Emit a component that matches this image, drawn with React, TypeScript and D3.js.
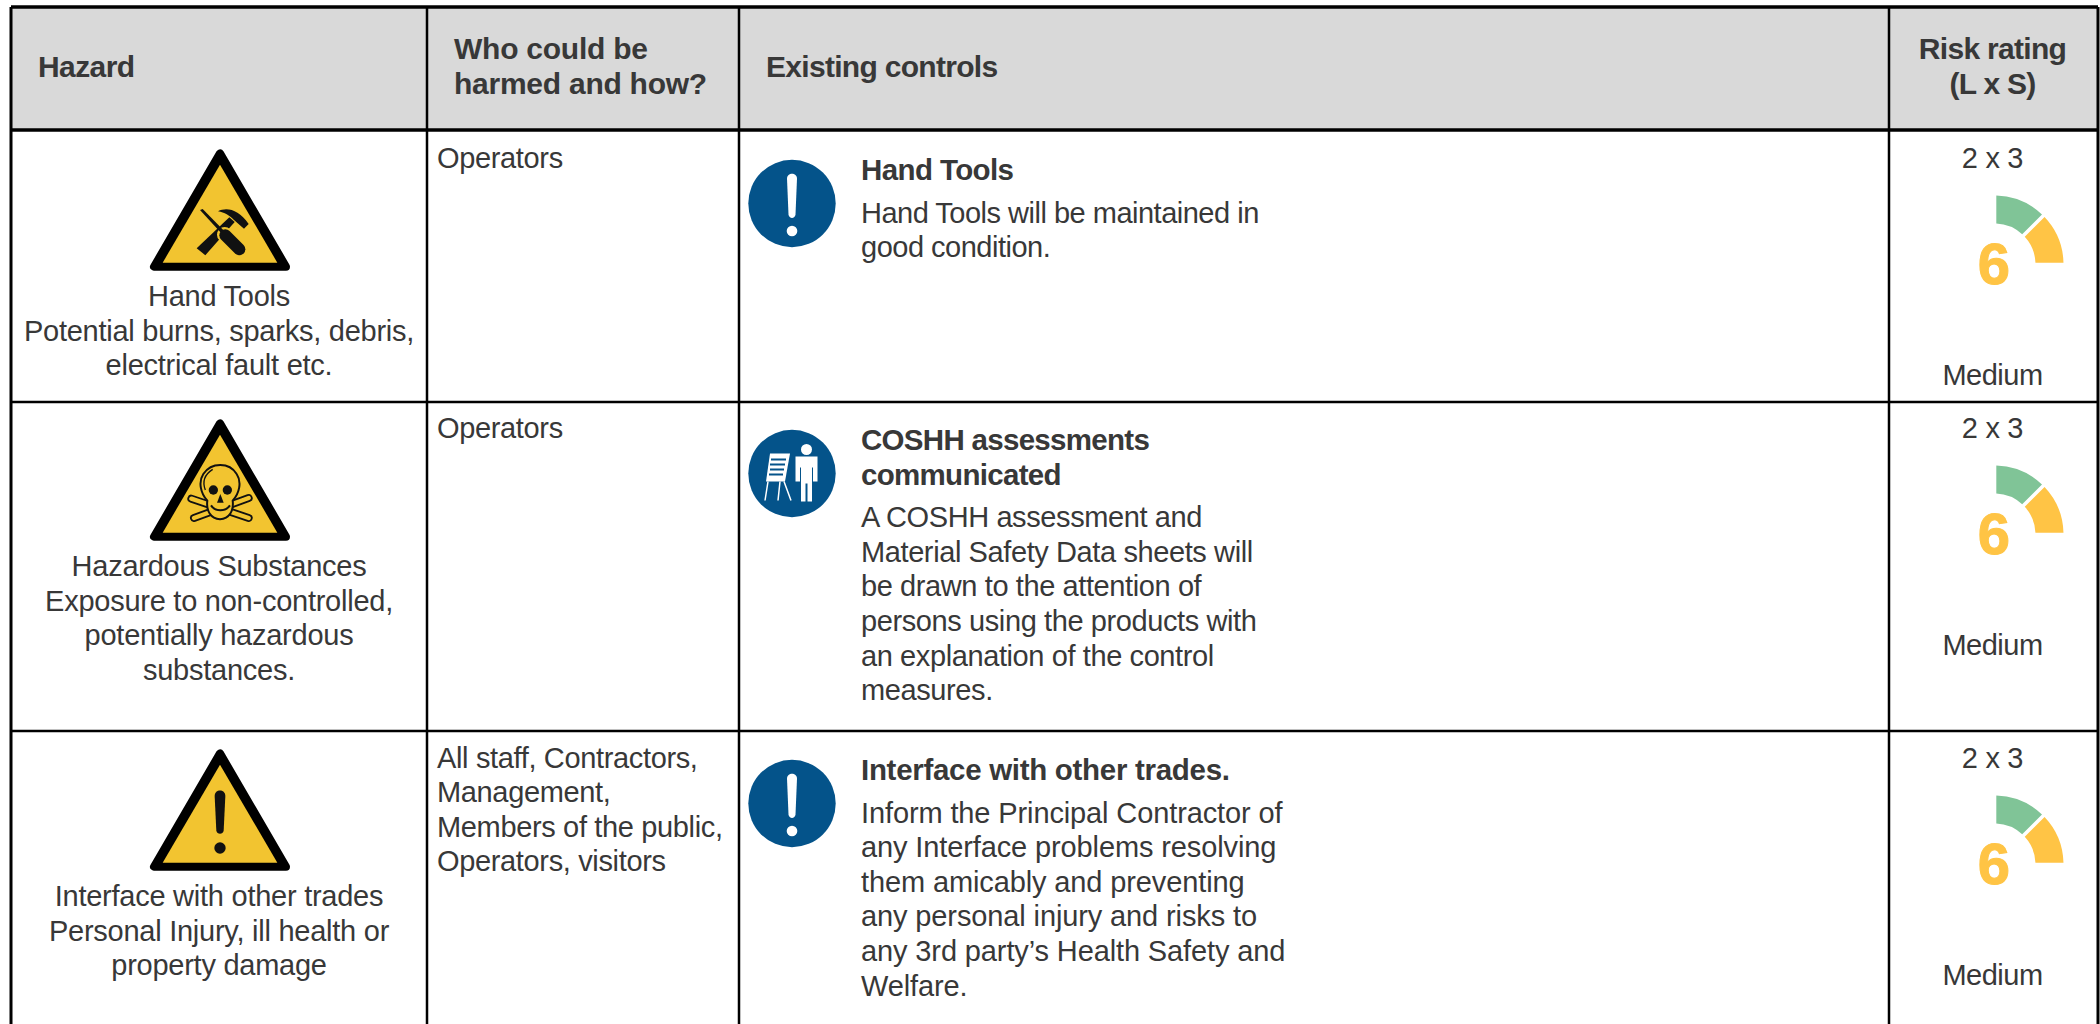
import React from "react";
import * as d3 from "d3";

// table content
const headers = [["Hazard"], ["Who could be", "harmed and how?"], ["Existing controls"], ["Risk rating", "(L x S)"]];
const hazardText = [
  ["Hand Tools", "Potential burns, sparks, debris,", "electrical fault etc."],
  ["Hazardous Substances", "Exposure to non-controlled,", "potentially hazardous", "substances."],
  ["Interface with other trades", "Personal Injury, ill health or", "property damage"],
];
const whoText = [
  ["Operators"],
  ["Operators"],
  ["All staff, Contractors,", "Management,", "Members of the public,", "Operators, visitors"],
];
const controlTitles = [
  ["Hand Tools"],
  ["COSHH assessments", "communicated"],
  ["Interface with other trades."],
];
const controlBodies = [
  ["Hand Tools will be maintained in", "good condition."],
  [
    "A COSHH assessment and",
    "Material Safety Data sheets will",
    "be drawn to the attention of",
    "persons using the products with",
    "an explanation of the control",
    "measures.",
  ],
  [
    "Inform the Principal Contractor of",
    "any Interface problems resolving",
    "them amicably and preventing",
    "any personal injury and risks to",
    "any 3rd party\u2019s Health Safety and",
    "Welfare.",
  ],
];
const likelihood = [2, 2, 2];
const severity = [3, 3, 3];
const ratingLabels = ["Medium", "Medium", "Medium"];
const hazardIcons = ["tools", "skull", "warning"];
const controlIcons = ["notice", "briefing", "notice"];
const gaugeBands = [1, 1];
const gaugeColors = ["#80C497", "#FFC445"];

// layout
const colEdges = [11, 427, 739, 1889, 2098];
const rowEdges = [7, 130, 402, 731];
const rowShift = [0, 270, 600];
const headerSpacing = [-0.6, -0.25, -0.7, -0.7];
const titleSpacing = [-0.6, -0.7, -0.3];
const bodySpacing = [-0.5, -0.4, -0.12];
const textColor = "#383838";
const yellow = "#F2C430";
const blue = "#04538A";
const lineH = 34.6;

const pie = d3
  .pie<number>()
  .value((d) => d)
  .sort(null)
  .startAngle(0)
  .endAngle(Math.PI / 2)
  .padAngle(0.045);
const arc = d3.arc<d3.PieArcDatum<number>>().innerRadius(41).outerRadius(69);

const Lines = ({ lines, x, y, anchor, size, spacing, bold }: any) => (
  <text
    x={x}
    y={y}
    textAnchor={anchor || "start"}
    fontWeight={bold ? 700 : 400}
    fontSize={size || 29}
    letterSpacing={spacing ?? -0.3}
    fill={textColor}
  >
    {lines.map((l: string, i: number) => (
      <tspan key={i} x={x} y={y + i * lineH}>
        {l}
      </tspan>
    ))}
  </text>
);

const Head = (p: any) => <Lines {...p} bold size={30} />;

// glyphs are drawn in a 510x420 box, scaled down by three
const Triangle = ({ kind, shift }: any) => (
  <g transform={`translate(130 ${140 + shift}) scale(${1 / 3})`}>
    <path d="M270 40L72 380H468Z" fill="#000" stroke="#000" strokeWidth={24} strokeLinejoin="round" />
    <path d="M270 74L98 368H442Z" fill={yellow} />
    {kind === "tools" && (
      <g>
        <path d="M298 232L314 246L226 346L200 325Z" fill="#111" />
        <path d="M264 214C292 200 326 210 356 252L342 266L312 240C298 226 284 218 264 214Z" fill="#111" />
        <path d="M284 284L330 330" stroke={yellow} strokeWidth={46} strokeLinecap="round" />
        <path d="M210 210L218 207L282 272L274 280Z" fill="#111" />
        <path d="M286 286L328 328" stroke="#111" strokeWidth={36} strokeLinecap="round" />
      </g>
    )}
    {kind === "skull" && (
      <g fill={yellow} stroke="#111" strokeLinejoin="round">
        <path d="M184 266L356 324M356 264L192 324" fill="none" strokeWidth={24} strokeLinecap="round" />
        <path d="M184 266L356 324M356 264L192 324" fill="none" strokeWidth={13} stroke={yellow} strokeLinecap="round" />
        <path
          d="M232 272C212 250 204 216 220 192C244 156 298 156 320 192C336 216 328 250 308 272C312 302 298 326 270 328C242 326 228 302 232 272Z"
          strokeWidth={6}
        />
        <path d="M226 240C216 214 226 192 248 178" fill="none" strokeWidth={4} />
        <g fill="#111" stroke="none">
          <circle cx={250} cy={240} r={14} />
          <circle cx={292} cy={240} r={14} />
          <path d="M271 252L281 278H261Z" />
        </g>
        <path d="M243 286C256 306 286 306 300 286" fill="none" strokeWidth={6} />
      </g>
    )}
    {kind === "warning" && (
      <g fill="#111">
        <path d="M254 168C254 146 286 146 286 168L281 272C279 284 261 284 259 272Z" />
        <circle cx={270} cy={324} r={17} />
      </g>
    )}
  </g>
);

const Badge = ({ kind, cy }: any) => (
  <g transform={`translate(792 ${cy})`}>
    <circle r={43.7} fill={blue} />
    {kind === "notice" && (
      <g fill="#fff">
        <path d="M-5 -25C-5 -31.5 5 -31.5 5 -25L3.5 11C3 15.5 -3 15.5 -3.5 11Z" />
        <circle cy={27.5} r={5.3} />
      </g>
    )}
    {kind === "briefing" && (
      <g>
        <path d="M-22 -20L-2 -20L-7 8L-26 8Z" fill="#fff" />
        <path d="M-21 -14H-6M-22 -9H-7M-22 -4H-8M-23 1H-9" stroke={blue} strokeWidth={2} />
        <path d="M-24 8L-27 27M-8 8L-1 27M-12 8L-14 27" stroke="#fff" strokeWidth={1.5} fill="none" />
        <circle cx={14.5} cy={-24} r={5.5} fill="#fff" />
        <path d="M3.5 -17H25.5V8H21V-6H20V28H15.5V10H13.5V28H9V-6H8V8H3.5Z" fill="#fff" />
      </g>
    )}
  </g>
);

const Gauge = ({ shift, score, color }: any) => (
  <g>
    <g transform={`translate(1994.5 ${264.5 + shift})`}>
      {pie(gaugeBands).map((d, i) => (
        <path key={i} d={arc(d) || ""} fill={gaugeColors[i]} />
      ))}
    </g>
    <text x={1994} y={284 + shift} textAnchor="middle" fontSize={58} fontWeight={700} fill={color} stroke={color} strokeWidth={1}>
      {score}
    </text>
  </g>
);

export default function App() {
  const tableTop = rowEdges[0];
  const tableBottom = 1024;
  return (
    <svg
      width={2100}
      height={1024}
      style={{ position: "absolute", left: 0, top: 0, background: "#fff" }}
      fontFamily="'Liberation Sans', Arial, sans-serif"
    >
      <rect x={colEdges[0]} y={tableTop} width={colEdges[4] - colEdges[0]} height={rowEdges[1] - tableTop} fill="#D9D9D9" />

      <Head lines={headers[0]} x={38} y={77} spacing={headerSpacing[0]} />
      <Head lines={headers[1]} x={454} y={59} spacing={headerSpacing[1]} />
      <Head lines={headers[2]} x={766} y={77} spacing={headerSpacing[2]} />
      <Head lines={headers[3]} x={1992.5} y={59} anchor="middle" spacing={headerSpacing[3]} />

      {hazardText.map((lines, i) => (
        <g key={i}>
          <Triangle kind={hazardIcons[i]} shift={rowShift[i]} />
          <Lines lines={lines} x={219} y={306 + rowShift[i]} anchor="middle" spacing={-0.25} />
          <Lines lines={whoText[i]} x={437} y={167.5 + rowShift[i]} spacing={-0.35} />
          <Badge kind={controlIcons[i]} cy={203.5 + rowShift[i]} />
          <Lines lines={controlTitles[i]} x={861} y={180 + rowShift[i]} bold size={29.5} spacing={titleSpacing[i]} />
          <Lines
            lines={controlBodies[i]}
            x={861}
            y={180 + rowShift[i] + 42.5 + (controlTitles[i].length - 1) * lineH}
            spacing={bodySpacing[i]}
          />
          <Lines lines={[`${likelihood[i]} x ${severity[i]}`]} x={1992.5} y={168 + rowShift[i]} anchor="middle" />
          <Gauge shift={rowShift[i]} score={likelihood[i] * severity[i]} color={gaugeColors[1]} />
          <Lines lines={[ratingLabels[i]]} x={1992.5} y={384.5 + rowShift[i]} anchor="middle" spacing={-0.5} />
        </g>
      ))}

      {colEdges.map((x, i) => (
        <line key={x} x1={x} x2={x} y1={tableTop} y2={tableBottom} stroke="#000" strokeWidth={i === 0 || i === 4 ? 3 : 2.5} />
      ))}
      {rowEdges.map((y, i) => (
        <line key={y} x1={colEdges[0]} x2={colEdges[4]} y1={y} y2={y} stroke="#000" strokeWidth={i < 2 ? 3.5 : 2.5} />
      ))}
    </svg>
  );
}
